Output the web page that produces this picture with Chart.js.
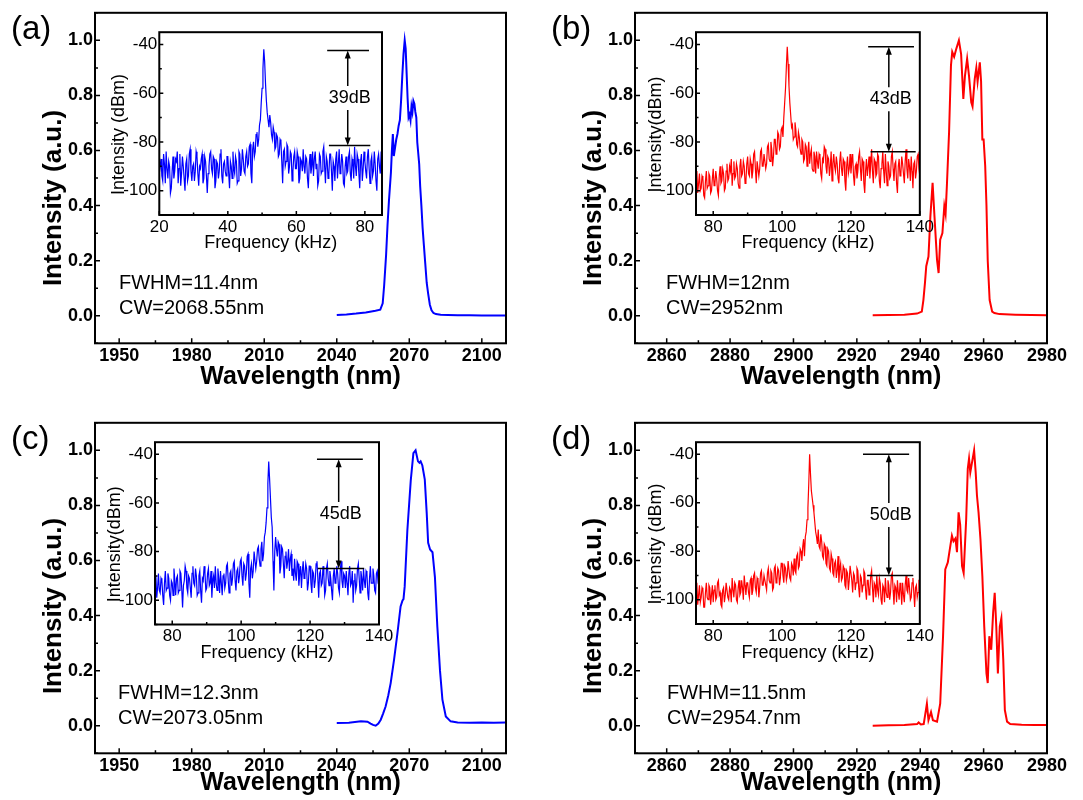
<!DOCTYPE html>
<html>
<head>
<meta charset="utf-8">
<title>Laser spectra and RF spectra</title>
<script src="https://cdn.jsdelivr.net/npm/chart.js@4.4.1/dist/chart.umd.min.js"></script>
<style>
  html, body { margin: 0; padding: 0; background: #fff; }
  #figure { position: relative; width: 1083px; height: 800px; overflow: hidden; }
  #figure canvas { position: absolute; }
</style>
</head>
<body>
<div id="figure">
  <canvas id="mainA" width="540" height="400" style="left:0;top:0"></canvas>
  <canvas id="mainB" width="543" height="400" style="left:540px;top:0"></canvas>
  <canvas id="mainC" width="540" height="390" style="left:0;top:410px"></canvas>
  <canvas id="mainD" width="543" height="390" style="left:540px;top:410px"></canvas>
  <canvas id="insetA" width="300" height="245" style="left:100px;top:20px"></canvas>
  <canvas id="insetB" width="300" height="245" style="left:636px;top:20px"></canvas>
  <canvas id="insetC" width="300" height="245" style="left:96px;top:430px"></canvas>
  <canvas id="insetD" width="300" height="245" style="left:636px;top:430px"></canvas>
</div>
<script>
// Optical spectra (wavelength in nm, normalised intensity)
const wlA = [2040, 2044, 2048, 2052, 2056, 2058, 2059, 2059.6, 2060.4, 2061, 2061.6, 2062, 2062.4, 2062.8, 2063.2,
  2063.6, 2064.1, 2064.6, 2065.1, 2065.6, 2066.1, 2066.6, 2067.1, 2067.6, 2068.1, 2068.5, 2068.9, 2069.3, 2069.7,
  2070.1, 2070.5, 2070.9, 2071.3, 2071.7, 2072.1, 2072.5, 2072.9, 2073.3, 2073.7, 2074.1, 2074.5, 2075, 2075.5,
  2076, 2076.6, 2077.2, 2077.8, 2078.5, 2079.2, 2080, 2081, 2083, 2086, 2090, 2095, 2100, 2105, 2110];
const intA = [0.003, 0.005, 0.008, 0.012, 0.018, 0.022, 0.045, 0.11, 0.22, 0.33, 0.42, 0.47, 0.52, 0.60, 0.66,
  0.58, 0.61, 0.64, 0.66, 0.69, 0.71, 0.78, 0.87, 0.95, 1.0, 0.97, 0.88, 0.79, 0.72,
  0.73, 0.71, 0.76, 0.74, 0.78, 0.77, 0.74, 0.72, 0.63, 0.59, 0.55, 0.47, 0.40, 0.32,
  0.26, 0.19, 0.12, 0.08, 0.04, 0.02, 0.01, 0.006, 0.004, 0.003, 0.002, 0.002, 0.001, 0.001, 0.001];

const wlB = [2925, 2930, 2935, 2939, 2940.5, 2941, 2941.5, 2941.9, 2942.6, 2943.2, 2943.9, 2944.5, 2945.3, 2945.8,
  2946.3, 2947, 2947.6, 2948, 2948.4, 2949.1, 2949.7, 2950.1, 2950.7, 2951.4, 2952.2, 2952.9, 2953.6, 2954.1,
  2954.8, 2955.4, 2956.1, 2956.5, 2957.2, 2957.7, 2958.1, 2958.8, 2959.2, 2959.6, 2960, 2960.5, 2960.9, 2961.3,
  2961.9, 2962.7, 2963.4, 2965, 2970, 2975, 2980];
const intB = [0.002, 0.003, 0.004, 0.008, 0.015, 0.057, 0.12, 0.18, 0.215, 0.36, 0.483, 0.36, 0.203, 0.155,
  0.276, 0.30, 0.398, 0.37, 0.47, 0.666, 0.909, 0.958, 0.94, 0.97, 1.0, 0.95, 0.787, 0.87,
  0.933, 0.87, 0.775, 0.76, 0.86, 0.90, 0.85, 0.92, 0.85, 0.64, 0.64, 0.544, 0.40, 0.20,
  0.057, 0.015, 0.01, 0.006, 0.004, 0.003, 0.002];

const wlC = [2040, 2045, 2050, 2052.7, 2054, 2055, 2056.1, 2057.2, 2058.2, 2059.2, 2060.2, 2061.3, 2062.3, 2063.7,
  2065.1, 2066.4, 2067.2, 2067.6, 2068.1, 2069.2, 2070.6, 2071.7, 2072.6, 2073.6, 2074.2, 2074.7, 2075.4, 2076.4,
  2077.2, 2077.8, 2078.6, 2079.6, 2080.6, 2081.6, 2082.7, 2083.7, 2085.1, 2087.1, 2090, 2095, 2100, 2105, 2110];
const intC = [0.01, 0.011, 0.016, 0.015, 0.008, 0.003, 0.0, 0.008, 0.022, 0.045, 0.07, 0.11, 0.155, 0.24,
  0.336, 0.433, 0.455, 0.46, 0.506, 0.71, 0.89, 0.99, 1.0, 0.96, 0.955, 0.96, 0.945, 0.895,
  0.773, 0.664, 0.64, 0.63, 0.54, 0.36, 0.2, 0.095, 0.034, 0.016, 0.012, 0.011, 0.012, 0.011, 0.012];

const wlD = [2925, 2930, 2935, 2939, 2939.5, 2940.2, 2941.1, 2942.1, 2942.6, 2943.4, 2944, 2945.3, 2946.3, 2947.2,
  2947.9, 2948.7, 2949.5, 2950, 2950.5, 2951.1, 2951.6, 2952.1, 2952.6, 2953.2, 2953.7, 2954.5, 2955, 2955.4,
  2955.8, 2956.4, 2957, 2957.5, 2957.9, 2958.4, 2959, 2959.6, 2960.2, 2960.9, 2961.3, 2961.8, 2962.4, 2963,
  2963.5, 2964, 2964.5, 2965.1, 2965.6, 2966.2, 2966.7, 2967.4, 2968.4, 2972, 2976, 2980];
const intD = [0.0, 0.002, 0.003, 0.006, 0.012, 0.005, 0.006, 0.08, 0.02, 0.05, 0.02, 0.015, 0.08, 0.325,
  0.568, 0.593, 0.653, 0.69, 0.67, 0.68, 0.63, 0.775, 0.73, 0.58, 0.555, 0.75, 0.933, 0.97,
  0.92, 0.96, 1.0, 0.92, 0.836, 0.775, 0.678, 0.544, 0.36, 0.19, 0.155, 0.325, 0.276, 0.41,
  0.483, 0.36, 0.19, 0.36, 0.39, 0.24, 0.057, 0.015, 0.006, 0.004, 0.003, 0.003];

// RF spectra (dBm), one value per 0.25 kHz bin from the start frequency; 20 bins per row
const rfStep = 0.25;
const rfStartA = 20;
const rfA = [-93, -90, -87, -94, -96, -85, -89, -97, -84, -91, -95, -88, -90, -101, -99, -92, -86, -95, -92, -87,
  -88, -84, -97, -91, -85, -98, -93, -86, -90, -95, -100, -89, -87, -96, -94, -85, -83, -92, -96, -90,
  -89, -96, -92, -84, -86, -93, -98, -90, -91, -87, -85, -97, -95, -86, -88, -94, -101, -93, -90, -85,
  -84, -91, -93, -86, -87, -99, -96, -88, -89, -95, -92, -85, -83, -94, -97, -89, -88, -92, -94, -86,
  -86, -93, -99, -88, -90, -95, -84, -91, -93, -86, -88, -97, -96, -84, -85, -94, -91, -83, -87, -92,
  -93, -86, -84, -90, -89, -82, -81, -93, -97, -83, -80, -86, -84, -77, -76, -82, -79, -73, -71, -64,
  -58, -50, -42, -47, -56, -63, -68, -71, -74, -69, -72, -77, -79, -74, -76, -83, -82, -77, -78, -86,
  -85, -79, -80, -88, -97, -84, -83, -90, -88, -81, -82, -93, -90, -84, -85, -96, -92, -86, -84, -91,
  -91, -84, -86, -97, -95, -87, -88, -92, -83, -90, -93, -86, -87, -95, -99, -89, -85, -93, -90, -84,
  -94, -87, -84, -91, -89, -98, -96, -85, -86, -93, -92, -84, -82, -90, -97, -86, -88, -95, -93, -85,
  -85, -92, -100, -88, -90, -96, -87, -84, -95, -89, -83, -93, -91, -85, -88, -97, -98, -90, -86, -93,
  -92, -86, -84, -93, -96, -87, -89, -95, -82, -90, -94, -85, -87, -93, -99, -88, -85, -96, -91, -84,
  -88, -92, -95, -86, -83, -91, -97, -88, -86, -94, -92, -84, -89, -96, -100, -87, -85, -90, -93, -84, -87];

const rfStartB = 75;
const rfB = [-96, -92, -101, -97, -93, -100, -99, -94, -95, -102, -103, -96, -92, -99, -98, -93, -94, -101, -100, -95,
  -91, -98, -97, -92, -95, -100, -102, -94, -90, -97, -96, -91, -93, -100, -99, -92, -89, -96, -95, -90,
  -92, -87, -98, -93, -88, -95, -94, -89, -91, -97, -99, -90, -87, -94, -93, -88, -90, -97, -96, -89,
  -86, -93, -94, -87, -89, -95, -92, -85, -84, -91, -97, -88, -88, -94, -91, -84, -83, -90, -90, -85,
  -85, -91, -89, -82, -81, -87, -88, -80, -83, -90, -86, -79, -79, -85, -84, -76, -77, -83, -82, -75,
  -74, -78, -70, -64, -58, -49, -41, -48, -57, -64, -69, -74, -73, -79, -78, -72, -75, -81, -82, -76,
  -78, -83, -85, -79, -80, -88, -87, -81, -82, -90, -84, -80, -89, -85, -83, -91, -92, -84, -86, -93,
  -84, -88, -91, -85, -86, -93, -95, -87, -88, -82, -83, -90, -93, -86, -87, -94, -90, -84, -96, -89,
  -85, -90, -92, -86, -89, -95, -97, -88, -84, -91, -94, -87, -88, -96, -100, -90, -86, -93, -91, -85,
  -93, -88, -85, -94, -98, -90, -89, -95, -92, -86, -84, -91, -96, -87, -88, -97, -101, -92, -87, -94,
  -90, -86, -95, -89, -83, -92, -97, -87, -88, -94, -93, -85, -86, -96, -99, -91, -89, -84, -92, -97,
  -85, -92, -98, -88, -90, -95, -94, -86, -84, -91, -96, -89, -88, -97, -101, -90, -87, -94, -93, -86,
  -89, -93, -97, -88, -83, -91, -95, -87, -90, -96, -86, -92, -99, -89, -88, -95, -92, -86, -85, -91, -94];

const rfStartC = 75;
const rfC = [-94, -90, -99, -95, -89, -96, -97, -91, -92, -98, -102, -93, -88, -96, -95, -89, -91, -98, -100, -92,
  -93, -98, -87, -92, -98, -91, -90, -97, -96, -88, -89, -95, -103, -94, -92, -86, -88, -95, -97, -90,
  -91, -95, -99, -89, -86, -93, -94, -87, -90, -98, -97, -90, -88, -96, -101, -91, -92, -86, -89, -96,
  -95, -89, -87, -94, -93, -88, -99, -92, -90, -95, -86, -93, -96, -87, -91, -97, -88, -93, -98, -90,
  -89, -95, -93, -86, -85, -92, -97, -89, -88, -94, -91, -85, -84, -92, -96, -88, -87, -93, -90, -84,
  -83, -90, -94, -85, -86, -92, -89, -82, -81, -93, -99, -87, -85, -91, -88, -80, -80, -87, -84, -79,
  -78, -83, -86, -79, -76, -84, -81, -74, -72, -68, -62, -52, -43, -50, -58, -66, -70, -84, -96, -80,
  -74, -79, -82, -76, -77, -89, -86, -78, -79, -85, -91, -82, -80, -87, -84, -79, -88, -83, -81, -90,
  -87, -92, -83, -89, -92, -84, -85, -94, -89, -86, -95, -88, -84, -91, -90, -85, -87, -96, -93, -86,
  -86, -93, -97, -88, -89, -95, -92, -85, -84, -91, -99, -89, -88, -94, -93, -86, -90, -98, -96, -87,
  -85, -91, -94, -88, -91, -96, -100, -90, -87, -93, -92, -86, -89, -95, -97, -88, -84, -92, -95, -89,
  -90, -95, -88, -93, -98, -89, -86, -94, -93, -88, -101, -92, -89, -96, -94, -87, -85, -91, -97, -88,
  -91, -96, -87, -92, -95, -88, -89, -97, -100, -91, -86, -93, -93, -87, -90, -96, -97, -89, -88, -93, -94];

const rfStartD = 75;
const rfD = [-97, -93, -102, -98, -94, -101, -99, -95, -96, -103, -103, -97, -93, -99, -100, -94, -95, -102, -98, -94,
  -101, -96, -94, -100, -99, -93, -92, -98, -97, -102, -103, -96, -95, -101, -98, -93, -93, -99, -100, -95,
  -96, -101, -91, -96, -99, -93, -94, -100, -101, -95, -92, -98, -97, -92, -95, -100, -90, -94, -98, -93,
  -93, -97, -99, -92, -91, -98, -96, -90, -89, -95, -97, -91, -92, -99, -95, -89, -88, -94, -94, -90,
  -90, -94, -96, -89, -87, -92, -93, -88, -89, -96, -95, -87, -86, -93, -92, -87, -88, -94, -91, -85,
  -85, -90, -93, -86, -87, -92, -90, -84, -84, -91, -92, -85, -86, -90, -83, -88, -89, -82, -81, -87,
  -86, -79, -80, -84, -78, -75, -82, -74, -72, -67, -62, -52, -40, -48, -55, -58, -61, -64, -68, -72,
  -74, -77, -71, -78, -79, -73, -76, -82, -83, -77, -78, -85, -86, -79, -80, -87, -88, -81, -83, -89,
  -90, -85, -84, -91, -88, -82, -93, -87, -85, -92, -91, -86, -87, -94, -95, -88, -89, -96, -92, -86,
  -86, -92, -97, -89, -90, -96, -93, -87, -88, -95, -99, -90, -91, -97, -94, -88, -89, -96, -100, -92,
  -92, -98, -96, -90, -88, -95, -101, -93, -94, -99, -90, -96, -98, -91, -93, -100, -102, -94, -95, -101,
  -91, -97, -99, -92, -94, -100, -97, -90, -89, -96, -102, -94, -95, -101, -92, -97, -100, -93, -96, -102,
  -93, -98, -101, -94, -90, -96, -97, -91, -95, -100, -99, -93, -91, -97, -103, -95, -94, -99, -97, -92, -92];

// Side-mode suppression (dB), linewidth and centre wavelength
const snrA = 39, snrB = 43, snrC = 45, snrD = 50;
const snrTopA = -42.5, snrTopB = -41, snrTopC = -42, snrTopD = -40;
const fwhmA = '11.4', fwhmB = '12', fwhmC = '12.3', fwhmD = '11.5';
const cwA = '2068.55', cwB = '2952', cwC = '2073.05', cwD = '2954.7';

// Axis ticks
const wlTicks2um = [1950, 1980, 2010, 2040, 2070, 2100];
const wlTicks3um = [2860, 2880, 2900, 2920, 2940, 2960, 2980];
const intTicks = [0, 0.2, 0.4, 0.6, 0.8, 1.0];
const rfTicksLow = [20, 40, 60, 80];
const rfTicksHigh = [80, 100, 120, 140];
const dbmTicks = [-100, -80, -60, -40];

const FONT = '"Liberation Sans", Arial, Helvetica, sans-serif';
Chart.defaults.font.family = FONT;
Chart.defaults.color = '#000';

const panels = [
  { main: 'mainA', inset: 'insetA', letter: '(a)', color: '#0000ff',
    wl: wlA, int: intA, wlMin: 1940, wlMax: 2110, wlTicks: wlTicks2um,
    rf: rfA, rfStart: rfStartA, rfMin: 20, rfMax: 85, rfTicks: rfTicksLow, rfTitle: 'Intensity (dBm)',
    fwhm: fwhmA, cw: cwA, snr: snrA, snrTop: snrTopA,
    marker: { top: [69, 81.2], bottom: [69.5, 81.6], arrow: 75 },
    area: { left: 95, top: 12.7, right: 506, bottom: 343.3 },
    inArea: { left: 59.3, top: 10, right: 282, bottom: 195 },
    textDx: 24, yTitleY: 198, xTitlePad: 8 },
  { main: 'mainB', inset: 'insetB', letter: '(b)', color: '#ff0000',
    wl: wlB, int: intB, wlMin: 2850, wlMax: 2980, wlTicks: wlTicks3um,
    rf: rfB, rfStart: rfStartB, rfMin: 75, rfMax: 140, rfTicks: rfTicksHigh, rfTitle: 'Intensity(dBm)',
    fwhm: fwhmB, cw: cwB, snr: snrB, snrTop: snrTopB,
    marker: { top: [125, 138.3], bottom: [125.7, 138.8], arrow: 131 },
    area: { left: 95, top: 12.7, right: 507, bottom: 343.3 },
    inArea: { left: 60, top: 10.7, right: 284, bottom: 195 },
    textDx: 31, yTitleY: 198, xTitlePad: 8 },
  { main: 'mainC', inset: 'insetC', letter: '(c)', color: '#0000ff',
    wl: wlC, int: intC, wlMin: 1940, wlMax: 2110, wlTicks: wlTicks2um,
    rf: rfC, rfStart: rfStartC, rfMin: 75, rfMax: 140, rfTicks: rfTicksHigh, rfTitle: 'Intensity(dBm)',
    fwhm: fwhmC, cw: cwC, snr: snrC, snrTop: snrTopC,
    marker: { top: [122, 135.3], bottom: [122.2, 135.7], arrow: 128.3 },
    area: { left: 95, top: 12.7, right: 506, bottom: 343.3 },
    inArea: { left: 59, top: 10.7, right: 283, bottom: 194.5 },
    textDx: 23, yTitleY: 196, xTitlePad: 1.5 },
  { main: 'mainD', inset: 'insetD', letter: '(d)', color: '#ff0000',
    wl: wlD, int: intD, wlMin: 2850, wlMax: 2980, wlTicks: wlTicks3um,
    rf: rfD, rfStart: rfStartD, rfMin: 75, rfMax: 140, rfTicks: rfTicksHigh, rfTitle: 'Intensity (dBm)',
    fwhm: fwhmD, cw: cwD, snr: snrD, snrTop: snrTopD,
    marker: { top: [123.5, 136.9], bottom: [124.7, 138.1], arrow: 131 },
    area: { left: 95, top: 12.7, right: 507, bottom: 343.3 },
    inArea: { left: 60, top: 10.7, right: 284, bottom: 194 },
    textDx: 32, yTitleY: 196, xTitlePad: 1.5 }
];

// minor ticks sit halfway between the labelled ones
function minorTicks(majors, min, max) {
  const step = majors[1] - majors[0];
  const out = [];
  for (let v = majors[0] - step / 2; v <= max + 1e-9; v += step) {
    if (v >= min - 1e-9) out.push(v);
  }
  return out;
}

// Closed box with inward ticks on the bottom and left axes
function framePlugin(majorLen, minorLen, frameWidth) {
  return {
    id: 'frame',
    afterDatasetsDraw(chart) {
      const { ctx, chartArea: a, scales: { x, y } } = chart;
      const xt = x.ticks.map(t => t.value);
      const yt = y.ticks.map(t => t.value);
      ctx.save();
      ctx.strokeStyle = '#000';
      ctx.lineWidth = 1.5;
      ctx.beginPath();
      xt.forEach(v => { const p = x.getPixelForValue(v); ctx.moveTo(p, a.bottom); ctx.lineTo(p, a.bottom - majorLen); });
      minorTicks(xt, x.min, x.max).forEach(v => { const p = x.getPixelForValue(v); ctx.moveTo(p, a.bottom); ctx.lineTo(p, a.bottom - minorLen); });
      yt.forEach(v => { const p = y.getPixelForValue(v); ctx.moveTo(a.left, p); ctx.lineTo(a.left + majorLen, p); });
      minorTicks(yt, y.min, y.max).forEach(v => { const p = y.getPixelForValue(v); ctx.moveTo(a.left, p); ctx.lineTo(a.left + minorLen, p); });
      ctx.stroke();
      ctx.lineWidth = frameWidth;
      ctx.strokeRect(a.left, a.top, a.right - a.left, a.bottom - a.top);
      ctx.restore();
    }
  };
}

function mainTextPlugin(p) {
  return {
    id: 'mainText',
    afterDraw(chart) {
      const { ctx, chartArea: a } = chart;
      ctx.save();
      ctx.fillStyle = '#000';
      ctx.textBaseline = 'middle';
      ctx.font = `33px ${FONT}`;
      ctx.fillText(p.letter, 11, 30);
      ctx.font = `20px ${FONT}`;
      ctx.fillText(`FWHM=${p.fwhm}nm`, a.left + p.textDx, a.top + 271);
      ctx.fillText(`CW=${p.cw}nm`, a.left + p.textDx, a.top + 296);
      ctx.translate(54, p.yTitleY);
      ctx.rotate(-Math.PI / 2);
      ctx.textAlign = 'center';
      ctx.font = `bold 26px ${FONT}`;
      ctx.fillText('Intensity (a.u.)', 0, 0);
      ctx.restore();
    }
  };
}

// dB bracket: two level lines joined by a double arrow, plus the rotated y title
function insetTextPlugin(p) {
  return {
    id: 'insetText',
    afterDraw(chart) {
      const { ctx, chartArea: a, scales: { x, y } } = chart;
      const m = p.marker;
      const yTop = y.getPixelForValue(p.snrTop);
      const yBot = y.getPixelForValue(p.snrTop - p.snr);
      const xA = x.getPixelForValue(m.arrow);
      const yMid = (yTop + yBot) / 2;
      ctx.save();
      ctx.strokeStyle = '#000';
      ctx.fillStyle = '#000';
      ctx.lineWidth = 1.5;
      ctx.beginPath();
      ctx.moveTo(x.getPixelForValue(m.top[0]), yTop);
      ctx.lineTo(x.getPixelForValue(m.top[1]), yTop);
      ctx.moveTo(x.getPixelForValue(m.bottom[0]), yBot);
      ctx.lineTo(x.getPixelForValue(m.bottom[1]), yBot);
      ctx.moveTo(xA, yTop + 6);
      ctx.lineTo(xA, yMid - 12);
      ctx.moveTo(xA, yMid + 12);
      ctx.lineTo(xA, yBot - 6);
      ctx.stroke();
      ctx.beginPath();
      ctx.moveTo(xA, yTop); ctx.lineTo(xA - 3, yTop + 8); ctx.lineTo(xA + 3, yTop + 8); ctx.closePath();
      ctx.moveTo(xA, yBot); ctx.lineTo(xA - 3, yBot - 8); ctx.lineTo(xA + 3, yBot - 8); ctx.closePath();
      ctx.fill();
      ctx.font = `18px ${FONT}`;
      ctx.textAlign = 'center';
      ctx.textBaseline = 'middle';
      ctx.fillText(`${p.snr}dB`, xA + 2, yMid);
      ctx.translate(a.left - 40, (a.top + a.bottom) / 2 + 11);
      ctx.rotate(-Math.PI / 2);
      ctx.fillText(p.rfTitle, 0, 0);
      ctx.restore();
    }
  };
}

function mainChart(p) {
  const canvas = document.getElementById(p.main);
  const a = p.area;
  return new Chart(canvas, {
    type: 'line',
    data: {
      datasets: [{
        data: p.wl.map((w, i) => ({ x: w, y: p.int[i] })),
        borderColor: p.color,
        borderWidth: 2,
        pointRadius: 0,
        tension: 0,
        fill: false
      }]
    },
    options: {
      responsive: false,
      animation: false,
      layout: { padding: { left: 0, top: a.top, right: canvas.width - a.right, bottom: 0 } },
      plugins: { legend: { display: false }, tooltip: { enabled: false } },
      scales: {
        x: {
          type: 'linear', min: p.wlMin, max: p.wlMax,
          grid: { display: false, drawTicks: false },
          border: { display: false },
          afterBuildTicks: s => { s.ticks = p.wlTicks.map(v => ({ value: v })); },
          afterFit: s => { s.height = canvas.height - a.bottom; },
          ticks: { autoSkip: false, maxRotation: 0, padding: 2, color: '#000',
            font: { size: 18, weight: 'bold' }, callback: v => String(v) },
          title: { display: true, text: 'Wavelength (nm)', color: '#000',
            font: { size: 25, weight: 'bold' }, padding: { top: 0, bottom: p.xTitlePad } }
        },
        y: {
          type: 'linear', min: -0.1, max: 1.1,
          grid: { display: false, drawTicks: false },
          border: { display: false },
          afterBuildTicks: s => { s.ticks = intTicks.map(v => ({ value: v })); },
          afterFit: s => { s.width = a.left; },
          ticks: { autoSkip: false, padding: 2, color: '#000',
            font: { size: 18, weight: 'bold' }, callback: v => v.toFixed(1) }
        }
      }
    },
    plugins: [framePlugin(5, 3, 2), mainTextPlugin(p)]
  });
}

function insetChart(p) {
  const canvas = document.getElementById(p.inset);
  const a = p.inArea;
  return new Chart(canvas, {
    type: 'line',
    data: {
      datasets: [{
        data: p.rf.map((v, i) => ({ x: p.rfStart + i * rfStep, y: v })),
        borderColor: p.color,
        borderWidth: 1.2,
        pointRadius: 0,
        tension: 0,
        fill: false
      }]
    },
    options: {
      responsive: false,
      animation: false,
      layout: { padding: { left: 0, top: a.top, right: canvas.width - a.right, bottom: 0 } },
      plugins: { legend: { display: false }, tooltip: { enabled: false } },
      scales: {
        x: {
          type: 'linear', min: p.rfMin, max: p.rfMax,
          grid: { display: false, drawTicks: false },
          border: { display: false },
          afterBuildTicks: s => { s.ticks = p.rfTicks.map(v => ({ value: v })); },
          afterFit: s => { s.height = canvas.height - a.bottom; },
          ticks: { autoSkip: false, maxRotation: 0, padding: 2, color: '#000', font: { size: 17 },
            callback: v => String(v) },
          title: { display: true, text: 'Frequency (kHz)', color: '#000',
            font: { size: 18 }, padding: { top: 0, bottom: 11.5 } }
        },
        y: {
          type: 'linear', min: -110, max: -35,
          grid: { display: false, drawTicks: false },
          border: { display: false },
          afterBuildTicks: s => { s.ticks = dbmTicks.map(v => ({ value: v })); },
          afterFit: s => { s.width = a.left; },
          ticks: { autoSkip: false, padding: 2, color: '#000', font: { size: 17 } }
        }
      }
    },
    plugins: [framePlugin(4, 2.5, 2), insetTextPlugin(p)]
  });
}

panels.forEach(p => { mainChart(p); insetChart(p); });
</script>
</body>
</html>
